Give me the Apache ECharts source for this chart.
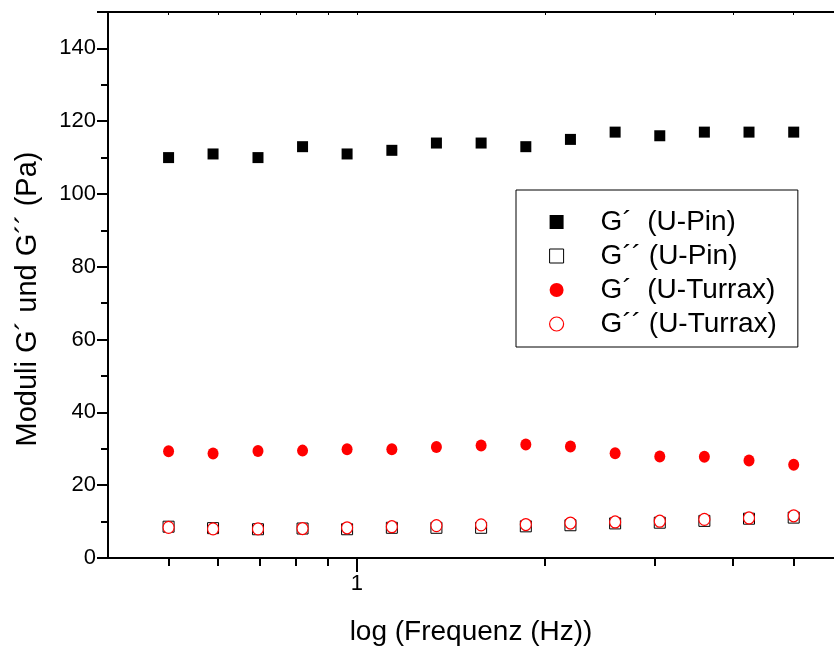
<!DOCTYPE html>
<html>
<head>
<meta charset="utf-8">
<script src="https://cdn.jsdelivr.net/npm/echarts@6/dist/echarts.min.js"></script>
<style>
html,body{margin:0;padding:0;background:#fff;}
#chart{width:834px;height:646px;}
</style>
</head>
<body>
<div id="chart"></div>
<script>
// Frequencies (Hz)
var freq = [0.5, 0.589, 0.695, 0.819, 0.965, 1.138, 1.341, 1.581, 1.864, 2.197, 2.59, 3.053, 3.598, 4.241, 5.0];
// G' (U-Pin)
var gPin = [110, 111, 110, 113, 111, 112, 114, 114, 113, 115, 117, 116, 117, 117, 117];
// G'' (U-Pin)
var gppPin = [8.6, 8.2, 7.9, 8.1, 7.9, 8.3, 8.3, 8.3, 8.7, 9.0, 9.5, 9.7, 10.2, 10.8, 11.1];
// G' (U-Turrax)
var gTurrax = [29.3, 28.7, 29.4, 29.5, 29.9, 29.9, 30.5, 30.9, 31.2, 30.6, 28.8, 27.9, 27.8, 26.8, 25.6];
// G'' (U-Turrax)
var gppTurrax = [8.4, 8.0, 8.0, 8.1, 8.3, 8.6, 8.9, 9.1, 9.2, 9.6, 9.9, 10.1, 10.6, 11.0, 11.6];
// x-axis tick values
var xMinorTicks = [0.5, 0.6, 0.7, 0.8, 0.9, 2, 3, 4, 5];
var xMajorTicks = [1];
var seriesNames = ['G\u00b4  (U-Pin)', 'G\u00b4\u00b4 (U-Pin)', 'G\u00b4  (U-Turrax)', 'G\u00b4\u00b4 (U-Turrax)'];

function pairs(ys) { return freq.map(function (f, i) { return [f, ys[i]]; }); }

var FONT = "'Liberation Sans', Arial, sans-serif";
var chart = echarts.init(document.getElementById('chart'), null, {renderer: 'canvas'});
var xBase = {
  type: 'log', logBase: 10, min: 0.4, max: 5.8, gridIndex: 0,
  splitLine: {show: false}, minorTick: {show: false}
};
chart.setOption({
  animation: false,
  backgroundColor: '#fff',
  grid: {left: 108, right: 0, top: 12, bottom: 88, containLabel: false, outerBoundsMode: 'none'},
  xAxis: [
    Object.assign({}, xBase, {
      position: 'bottom',
      name: 'log (Frequenz (Hz))', nameLocation: 'middle', nameGap: 60,
      nameTextStyle: {fontFamily: FONT, fontSize: 28, color: '#000'},
      axisLine: {show: true, lineStyle: {color: '#000', width: 2}},
      axisTick: {show: true, inside: false, length: 8, customValues: xMinorTicks, lineStyle: {color: '#000', width: 2}},
      axisLabel: {show: false}
    }),
    Object.assign({}, xBase, {
      position: 'bottom',
      axisLine: {show: false},
      axisTick: {show: true, inside: false, length: 14, customValues: xMajorTicks, lineStyle: {color: '#000', width: 2}},
      axisLabel: {show: true, customValues: xMajorTicks, margin: 15, fontFamily: FONT, fontSize: 22, color: '#000', formatter: function (v) { return String(Math.round(v)); }}
    }),
    Object.assign({}, xBase, {
      position: 'top',
      axisLine: {show: true, lineStyle: {color: '#000', width: 2}},
      axisTick: {show: true, inside: true, length: 3, customValues: xMinorTicks.concat(xMajorTicks), lineStyle: {color: '#000', width: 1}},
      axisLabel: {show: false}
    })
  ],
  yAxis: {
    type: 'value', min: 0, max: 150, interval: 20,
    name: 'Moduli G\u00b4 und G\u00b4\u00b4 (Pa)', nameLocation: 'middle', nameGap: 66,
    nameTextStyle: {fontFamily: FONT, fontSize: 29, color: '#000', padding: [0, 28, 0, 0]},
    axisLine: {show: true, lineStyle: {color: '#000', width: 2}},
    axisTick: {show: true, inside: false, length: 11, lineStyle: {color: '#000', width: 2}},
    minorTick: {show: true, splitNumber: 2, length: 7, lineStyle: {color: '#000', width: 2}},
    axisLabel: {margin: 12, fontFamily: FONT, fontSize: 22, color: '#000', showMaxLabel: false},
    splitLine: {show: false}, minorSplitLine: {show: false}
  },
  legend: {
    orient: 'vertical', left: 516, top: 190,
    padding: [18, 21, 9, 33],
    itemWidth: 78, itemHeight: 14, itemGap: 6,
    symbolKeepAspect: true,
    borderColor: '#000', borderWidth: 1, borderRadius: 0,
    textStyle: {fontFamily: FONT, fontSize: 28, color: '#000'},
    data: [
      {name: seriesNames[0], icon: 'path://M0,0H10V10H0Z', itemStyle: {color: '#000', opacity: 1}},
      {name: seriesNames[1], icon: 'path://M0,0H10V10H0Z', itemStyle: {color: '#fff', borderColor: '#000', borderWidth: 1, opacity: 1}},
      {name: seriesNames[2], icon: 'circle', itemStyle: {color: '#ff0000', opacity: 1}},
      {name: seriesNames[3], icon: 'circle', itemStyle: {color: '#fff', borderColor: '#ff0000', borderWidth: 1.2, opacity: 1}}
    ]
  },
  series: [
    {name: seriesNames[0], type: 'scatter', xAxisIndex: 0, data: pairs(gPin), symbol: 'rect', symbolSize: 11, itemStyle: {color: '#000', opacity: 1}},
    {name: seriesNames[1], type: 'scatter', xAxisIndex: 0, data: pairs(gppPin), symbol: 'rect', symbolSize: 11, itemStyle: {color: '#fff', borderColor: '#000', borderWidth: 1, opacity: 1}},
    {name: seriesNames[2], type: 'scatter', xAxisIndex: 0, data: pairs(gTurrax), symbol: 'circle', symbolSize: [11, 12], itemStyle: {color: '#ff0000', opacity: 1}},
    {name: seriesNames[3], type: 'scatter', xAxisIndex: 0, data: pairs(gppTurrax), symbol: 'circle', symbolSize: [11, 12], itemStyle: {color: '#fff', borderColor: '#ff0000', borderWidth: 1.2, opacity: 1}}
  ]
});
</script>
</body>
</html>
